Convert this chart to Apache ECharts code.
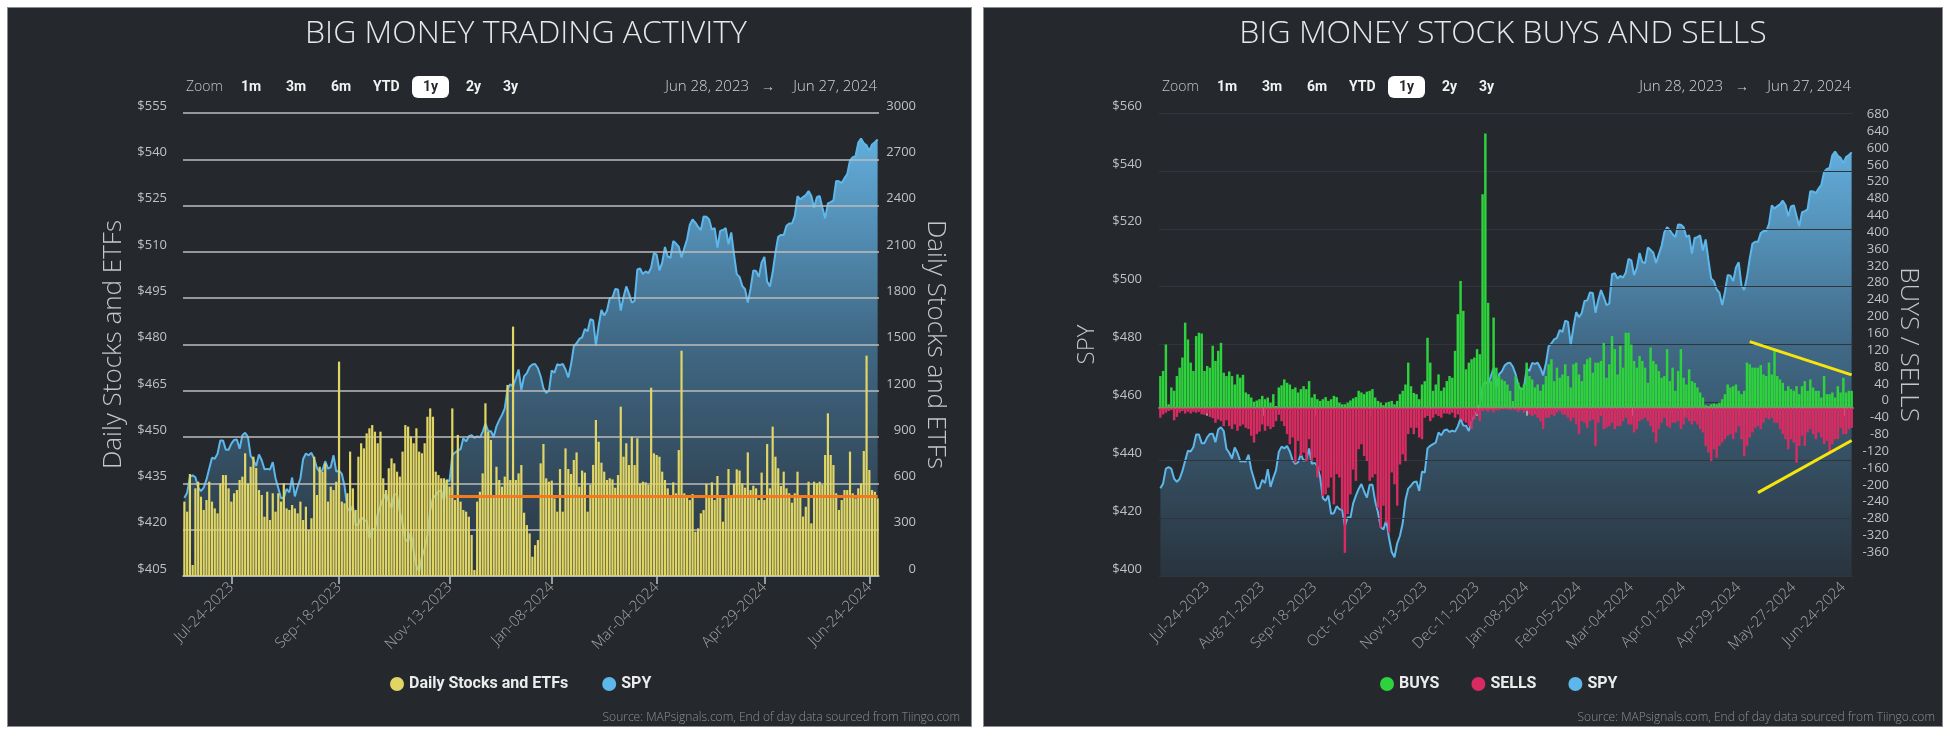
<!DOCTYPE html>
<html>
<head>
<meta charset="utf-8">
<script src="https://cdn.jsdelivr.net/npm/echarts/dist/echarts.min.js"></script>
<style>
html,body{margin:0;padding:0;background:#ffffff;}
.panel{position:absolute;top:7px;height:720px;background:#25292e;border:1px solid #8c8c8c;box-sizing:border-box;}
#p1{left:7px;width:965px;}
#p2{left:983px;width:960px;}
#c{position:absolute;left:0;top:0;width:1950px;height:738px;}
</style>
</head>
<body>
<div class="panel" id="p1"></div>
<div class="panel" id="p2"></div>
<div id="c"></div>
<script>
// ---------- DATA ----------
const startDate = '2023-06-28';
const endDate = '2024-06-27';
const holidays = ['2023-07-04','2023-09-04','2023-11-23','2023-12-25','2024-01-01','2024-01-15','2024-02-19','2024-03-29','2024-05-27','2024-06-19'];

const leftTickDates = ['2023-07-24','2023-09-18','2023-11-13','2024-01-08','2024-03-04','2024-04-29','2024-06-24'];
const rightTickDates = ['2023-07-24','2023-08-21','2023-09-18','2023-10-16','2023-11-13','2023-12-11','2024-01-08','2024-02-05','2024-03-04','2024-04-01','2024-04-29','2024-05-27','2024-06-24'];

// SPY daily close (adjusted), one per trading day
const spy = [
430.3,432.0,437.1,
437.6,437.0,433.6,432.5,433.6,436.3,439.8,443.3,443.0,444.6,448.9,448.9,445.9,445.9,447.9,449.1,449.2,446.2,450.6,451.4,
450.1,443.9,442.6,440.6,444.4,442.5,439.6,439.7,439.5,441.9,436.7,433.5,430.2,430.4,433.2,432.1,436.9,430.8,433.9,436.6,442.9,444.7,444.1,
444.9,443.0,440.0,438.7,439.3,442.2,439.8,440.3,444.1,438.8,439.1,438.1,434.1,426.9,426.0,427.8,421.5,421.7,424.1,423.1,
422.9,417.2,420.3,420.1,425.1,427.8,430.1,431.8,429.2,427.1,431.5,431.5,425.8,422.0,416.9,416.1,419.3,413.3,408.3,406.5,411.3,413.9,
418.3,426.3,430.2,431.2,432.4,432.7,429.4,436.1,435.7,444.1,445.0,445.6,446.1,449.6,448.6,450.3,450.6,449.8,450.2,449.9,451.7,
454.4,452.0,451.9,450.1,453.5,455.5,457.2,459.3,465.7,467.1,466.4,469.0,471.9,465.3,469.7,470.7,472.7,473.5,473.7,472.3,
469.7,465.8,464.3,465.0,471.6,470.9,473.6,473.3,473.7,471.9,469.3,473.5,479.4,480.4,481.8,482.3,485.0,484.3,488.2,487.8,479.8,
486.1,491.2,489.4,490.9,495.0,495.2,498.0,497.8,491.0,495.4,498.8,496.4,493.6,494.1,504.3,504.6,502.8,503.7,503.1,504.9,
509.6,509.1,504.0,506.5,511.6,508.5,508.1,513.5,512.7,511.7,508.2,511.2,514.1,518.8,520.5,519.5,518.1,517.1,521.5,521.4,
520.5,517.2,517.7,511.4,516.8,517.1,517.7,512.5,516.3,509.2,502.8,501.9,499.0,497.9,493.6,498.1,504.0,503.8,501.9,506.6,508.4,500.4,
498.8,503.4,509.7,514.9,515.5,515.5,518.5,519.2,519.2,521.6,528.1,527.0,527.8,528.4,529.7,528.1,524.3,527.7,528.1,524.4,520.9,525.7,
526.1,526.7,533.0,532.9,532.3,533.9,535.2,539.6,540.7,541.0,545.4,546.7,545.2,544.5,542.7,544.8,545.5,546.4
];

// Daily Stocks and ETFs (count)
const dailyStocks = [
482,417,661,71,568,611,514,428,492,611,
482,438,406,600,654,654,568,482,536,557,
622,644,795,600,708,773,700,557,525,384,
546,363,536,417,536,482,600,438,428,460,
438,406,482,363,449,298,374,773,525,708,
676,730,482,579,557,611,1389,482,471,536,
806,568,428,773,860,827,924,957,978,935,
860,935,633,557,698,762,730,676,644,806,
978,968,903,860,957,806,795,860,1032,1086,
1032,676,654,633,633,622,579,1086,492,914,
482,428,417,384,266,39,482,546,665,1119,
935,881,514,708,622,579,644,1238,622,1616,
622,665,719,410,330,276,125,200,233,730,855,
633,611,618,503,417,693,417,827,693,661,752,801,579,683,670,417,590,720,1011,
870,734,676,622,633,626,572,654,1097,773,860,719,903,719,892,600,611,607,590,1220,
795,784,773,676,622,568,514,607,536,816,1460,
536,514,492,531,287,309,406,428,596,525,607,492,648,514,352,503,693,518,596,691,683,600,572,801,557,585,568,492,670,492,855,568,968,
773,698,583,676,568,536,475,536,676,525,385,449,611,341,611,600,611,590,784,1054,
784,719,536,428,492,557,557,806,536,503,568,600,810,1428,687,557,546,503
];
const avgLevel = 518;      // orange reference line value
const avgStartIndex = 96;  // starts at Nov-13-2023

// Big money buys / sells
const buys = [
75,87,150,8,48,40,75,95,119,202,
162,107,87,170,178,176,87,99,95,147,
111,135,154,83,75,86,75,55,79,71,
78,36,32,24,14,17,20,28,20,24,
12,32,4,48,53,67,59,55,44,48,
36,44,51,44,63,24,32,20,16,20,
25,16,20,28,25,12,8,8,12,17,
22,25,40,36,32,38,40,44,24,16,
12,6,12,14,16,8,16,32,40,55,
107,51,35,32,20,55,63,166,107,40,
55,79,40,48,63,75,71,135,222,301,
230,91,107,115,119,139,127,507,651,249,
63,214,95,75,67,63,55,
40,16,75,59,48,55,107,75,67,48,
55,40,55,75,103,115,63,95,71,79,
103,75,48,103,107,79,63,103,115,119,
83,107,107,111,154,71,103,170,139,79,
147,95,178,178,150,111,95,123,111,95,
59,143,111,103,87,71,75,139,63,95,
40,87,139,71,55,91,63,59,48,36,
24,6,4,8,10,8,12,20,32,55,
48,51,55,40,32,40,107,103,95,95,
95,101,79,75,107,79,135,75,67,59,
40,51,44,40,51,32,51,63,40,67,
48,40,40,24,75,32,32,36,24,51,
36,71,36,40,40
];
const sells = [
-24,-16,-12,-8,-6,-30,-22,-12,-8,-14,
-10,-14,-10,-12,-10,-16,-17,-14,-22,-25,
-36,-28,-32,-44,-30,-44,-51,-40,-55,-44,
-40,-48,-51,-67,-83,-63,-57,-40,-55,-44,
-51,-46,-32,-17,-32,-44,-63,-87,-71,-131,
-79,-115,-107,-127,-75,-127,-119,-166,-150,-210,
-206,-190,-166,-230,-158,-166,-242,-345,-253,-206,
-147,-174,-99,-87,-115,-127,-174,-166,-158,-238,
-285,-233,-273,-297,-154,-182,-233,-135,-111,-127,
-63,-48,-63,-48,-71,-75,-24,-20,-32,-24,
-16,-20,-24,-14,-14,-16,-12,-24,-16,-28,
-32,-36,-44,-51,-28,-16,-32,-8,-6,-10,
-6,-12,-6,-6,-4,-4,-4,
-6,-4,-6,-10,-6,-12,-8,-16,-20,-16,
-24,-32,-51,-24,-24,-16,-20,-12,-8,-16,
-17,-24,-32,-24,-40,-63,-32,-36,-48,-32,
-28,-91,-36,-20,-51,-48,-44,-36,-51,-44,
-44,-32,-24,-40,-40,-59,-51,-32,-28,-24,
-32,-44,-59,-83,-51,-36,-24,-44,-48,-36,
-36,-32,-51,-40,-24,-32,-40,-32,-40,-51,
-59,-91,-107,-127,-99,-119,-91,-83,-75,-67,
-63,-75,-59,-44,-75,-115,-91,-71,-59,-48,
-44,-51,-36,-24,-28,-24,-36,-36,-51,-63,
-75,-99,-75,-83,-131,-91,-67,-91,-59,-51,
-63,-75,-59,-71,-87,-79,-111,-87,-75,-75,
-48,-63,-63,-51,-48
];
// hand-drawn wedge annotation: [index, value] pairs
const wedgeUpper = [[214, 157], [251, 78]];
const wedgeLower = [[217, -202], [251, -78]];

// ---------- helpers ----------
function tradingDays(s, e, hol) {
  const out = [];
  const hs = new Set(hol);
  let d = new Date(s + 'T00:00:00Z');
  const end = new Date(e + 'T00:00:00Z');
  while (d <= end) {
    const wd = d.getUTCDay();
    const iso = d.toISOString().slice(0, 10);
    if (wd !== 0 && wd !== 6 && !hs.has(iso)) out.push(iso);
    d = new Date(d.getTime() + 86400000);
  }
  return out;
}
const dates = tradingDays(startDate, endDate, holidays);
const MON = ['Jan','Feb','Mar','Apr','May','Jun','Jul','Aug','Sep','Oct','Nov','Dec'];
function fmtTick(iso) {
  return MON[+iso.slice(5, 7) - 1] + '-' + iso.slice(8, 10) + '-' + iso.slice(0, 4);
}
function tickMap(list) {
  const m = new Map();
  list.forEach(t => {
    let idx = dates.findIndex(d => d >= t);
    if (idx >= 0) m.set(idx, fmtTick(t));
  });
  return m;
}
const leftMap = tickMap(leftTickDates);
const rightMap = tickMap(rightTickDates);

const FONT = '"Open Sans", "Noto Sans", sans-serif';
const AXIS_COL = '#b9c3cc';

function xAxisFor(grid, map) {
  return {
    type: 'category', gridIndex: grid, data: dates, boundaryGap: true, z: 2,
    axisLine: { show: true, lineStyle: { color: AXIS_COL, width: 1.5 } },
    axisTick: { show: true, alignWithLabel: true, length: 8, interval: (i) => map.has(i), lineStyle: { color: AXIS_COL, width: 1.5 } },
    axisLabel: { interval: (i) => map.has(i), formatter: (v, i) => map.get(i) || '', rotate: 45, margin: 9, color: '#a3a3a3', fontSize: 15, fontFamily: FONT, fontWeight: 300 },
    splitLine: { show: false }
  };
}
const nameStyle = { color: '#c6c6c6', fontSize: 26, fontFamily: FONT, fontWeight: 300 };
const yLabel = { color: '#c0c0c0', fontSize: 13, fontFamily: FONT, verticalAlign: 'bottom', lineHeight: 14 };

const areaGrad = {
  type: 'linear', x: 0, y: 0, x2: 0, y2: 1,
  colorStops: [
    { offset: 0, color: '#62addb' },
    { offset: 0.45, color: '#416a87' },
    { offset: 1, color: '#29343e' }
  ]
};

function zoomRow(L, R) {
  const els = [];
  els.push({ type: 'text', x: L + 3, y: 87, style: { text: 'Zoom', fill: '#c4c4c4', font: '300 14px ' + FONT, verticalAlign: 'middle' } });
  [['1m', 58], ['3m', 103], ['6m', 148], ['YTD', 190], ['2y', 283], ['3y', 320]].forEach(b => {
    els.push({ type: 'text', x: L + b[1], y: 87, style: { text: b[0], fill: '#f2f2f2', font: 'bold 14px Roboto, sans-serif', verticalAlign: 'middle' } });
  });
  els.push({ type: 'rect', shape: { x: L + 229, y: 76, width: 37, height: 22, r: 6 }, style: { fill: '#ffffff' } });
  els.push({ type: 'text', x: L + 247.5, y: 87, style: { text: '1y', fill: '#25292e', font: 'bold 14px Roboto, sans-serif', align: 'center', verticalAlign: 'middle' } });
  els.push({ type: 'text', x: R - 130, y: 87, style: { text: 'Jun 28, 2023', fill: '#d2d2d2', font: '300 15px ' + FONT, align: 'right', verticalAlign: 'middle' } });
  els.push({ type: 'text', x: R - 111, y: 87, style: { text: '\u2192', fill: '#c8c8c8', font: '300 14px ' + FONT, align: 'center', verticalAlign: 'middle' } });
  els.push({ type: 'text', x: R - 2, y: 87, style: { text: 'Jun 27, 2024', fill: '#d2d2d2', font: '300 15px ' + FONT, align: 'right', verticalAlign: 'middle' } });
  return els;
}

const graphics = [].concat(
  [
    { type: 'text', x: 526, y: 34, style: { text: 'BIG MONEY TRADING ACTIVITY', fill: '#e8e8e8', font: '300 32px ' + FONT, align: 'center', verticalAlign: 'middle' } },
    { type: 'text', x: 1503, y: 34, style: { text: 'BIG MONEY STOCK BUYS AND SELLS', fill: '#e8e8e8', font: '300 32px ' + FONT, align: 'center', verticalAlign: 'middle' } },
    { type: 'text', x: 960, y: 718, style: { text: 'Source: MAPsignals.com, End of day data sourced from Tiingo.com', fill: '#8f8f8f', font: '300 12px ' + FONT, align: 'right', verticalAlign: 'middle' } },
    { type: 'text', x: 1935, y: 718, style: { text: 'Source: MAPsignals.com, End of day data sourced from Tiingo.com', fill: '#8f8f8f', font: '300 12px ' + FONT, align: 'right', verticalAlign: 'middle' } }
  ],
  zoomRow(183, 879),
  zoomRow(1159, 1853)
);

const legendText = { color: '#ececec', fontSize: 16, fontWeight: 'bold', fontFamily: 'Roboto, sans-serif' };

const option = {
  animation: false,
  backgroundColor: 'transparent',
  grid: [
    { left: 183, top: 113, width: 696, height: 463, containLabel: false },
    { left: 1159, top: 113, width: 694, height: 463, containLabel: false }
  ],
  xAxis: [xAxisFor(0, leftMap), xAxisFor(1, rightMap)],
  yAxis: [
    { type: 'value', gridIndex: 0, position: 'left', min: 405, max: 555, interval: 15, z: 2,
      name: 'Daily Stocks and ETFs', nameLocation: 'middle', nameRotate: 90, nameGap: 56, nameTextStyle: nameStyle,
      axisLine: { show: false }, axisTick: { show: false },
      axisLabel: Object.assign({ formatter: v => '$' + v, margin: 16 }, yLabel),
      splitLine: { show: true, lineStyle: { color: '#bdbdbd', width: 1.5 } } },
    { type: 'value', gridIndex: 0, position: 'right', min: 0, max: 3000, interval: 300,
      name: 'Daily Stocks and ETFs', nameLocation: 'middle', nameRotate: -90, nameGap: 43, nameTextStyle: nameStyle,
      axisLine: { show: false }, axisTick: { show: false },
      axisLabel: Object.assign({ align: 'right', margin: 37, formatter: v => String(v) }, yLabel),
      splitLine: { show: false } },
    { type: 'value', gridIndex: 1, position: 'left', min: 400, max: 560, interval: 20, z: 2,
      name: 'SPY', nameLocation: 'middle', nameRotate: 90, nameGap: 60, nameTextStyle: Object.assign({}, nameStyle, { fontSize: 24 }),
      axisLine: { show: false }, axisTick: { show: false },
      axisLabel: Object.assign({ formatter: v => '$' + v, margin: 17 }, yLabel),
      splitLine: { show: true, lineStyle: { color: '#30353b', width: 1 } } },
    { type: 'value', gridIndex: 1, position: 'right', min: -400, max: 700, interval: 40,
      name: 'BUYS / SELLS', nameLocation: 'middle', nameRotate: -90, nameGap: 42, nameTextStyle: nameStyle,
      axisLine: { show: false }, axisTick: { show: false },
      axisLabel: Object.assign({ align: 'right', margin: 36, showMinLabel: false, showMaxLabel: false, formatter: v => String(v) }, yLabel),
      splitLine: { show: false } }
  ],
  legend: [
    { data: ['Daily Stocks and ETFs', 'SPY'], left: 390, top: 676, padding: 0, itemGap: 34, itemWidth: 14, itemHeight: 14, icon: 'circle', textStyle: legendText, selectedMode: false },
    { data: ['BUYS', 'SELLS', { name: 'SPY' }], left: 1380, top: 676, padding: 0, itemGap: 32, itemWidth: 14, itemHeight: 14, icon: 'circle', textStyle: legendText, selectedMode: false }
  ],
  graphic: graphics,
  series: [
    { name: 'SPY', type: 'line', xAxisIndex: 0, yAxisIndex: 0, data: spy, z: 1, showSymbol: false, symbol: 'none',
      color: '#5db7ea', lineStyle: { color: '#5db7ea', width: 2 }, areaStyle: { color: areaGrad, opacity: 1 } },
    { name: 'Daily Stocks and ETFs', type: 'bar', xAxisIndex: 0, yAxisIndex: 1, data: dailyStocks, z: 3,
      color: '#e1d564', barCategoryGap: '20%',
      markLine: { silent: true, symbol: ['none', 'none'], label: { show: false },
        lineStyle: { color: '#f47a20', width: 3, type: 'solid' },
        data: [[{ coord: [dates[avgStartIndex], avgLevel] }, { coord: [dates[dates.length - 1], avgLevel] }]] } },
    { name: 'SPY', type: 'line', xAxisIndex: 1, yAxisIndex: 2, data: spy, z: 1, showSymbol: false, symbol: 'none',
      color: '#5db7ea', lineStyle: { color: '#5db7ea', width: 2 }, areaStyle: { color: areaGrad, opacity: 1 } },
    { name: 'BUYS', type: 'bar', xAxisIndex: 1, yAxisIndex: 3, data: buys, z: 3, color: '#2ed23d',
      barGap: '-100%', barCategoryGap: '10%',
      markLine: { silent: true, symbol: ['none', 'none'], label: { show: false },
        lineStyle: { color: '#f5e50c', width: 3, type: 'solid' },
        data: [
          [{ coord: [dates[wedgeUpper[0][0]], wedgeUpper[0][1]] }, { coord: [dates[wedgeUpper[1][0]], wedgeUpper[1][1]] }],
          [{ coord: [dates[wedgeLower[0][0]], wedgeLower[0][1]] }, { coord: [dates[wedgeLower[1][0]], wedgeLower[1][1]] }]
        ] } },
    { name: 'SELLS', type: 'bar', xAxisIndex: 1, yAxisIndex: 3, data: sells, z: 3, color: '#d72b62',
      barGap: '-100%', barCategoryGap: '10%' }
  ]
};

const chart = echarts.init(document.getElementById('c'), null, { renderer: 'canvas' });
chart.setOption(option);
</script>
</body>
</html>
